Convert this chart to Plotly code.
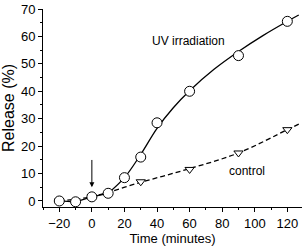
import plotly.graph_objects as go

# measured data
uv_time = [-20, -10, 0, 10, 20, 30, 40, 60, 90, 120]
uv_release = [0.0, -0.3, 1.5, 2.8, 8.5, 16.0, 28.5, 40.0, 53.0, 65.5]
ctrl_time = [-20, 0, 30, 60, 90, 120]
ctrl_release = [0.0, 1.5, 7.0, 11.5, 17.5, 26.0]

# curves as drawn in the figure
uv_early_time = [-20, -10, 0, 10]
uv_early_release = [0.0, -0.3, 1.5, 2.8]
uv_fit_time = [10, 20, 30, 40, 50, 60, 75, 90, 105, 120, 127]
uv_fit_release = [2.8, 8.5, 17.0, 26.5, 34.0, 40.2, 48.0, 54.5, 60.3, 65.5, 67.8]
ctrl_fit_time = [-20, 0, 30, 60, 90, 120, 127]
ctrl_fit_release = [0.0, 1.6, 6.8, 11.8, 17.5, 26.0, 28.0]

x_ticks = [-20, 0, 20, 40, 60, 80, 100, 120]
y_ticks = [0, 10, 20, 30, 40, 50, 60, 70]

FONT = "Liberation Sans, Arial, sans-serif"

fig = go.Figure()
fig.add_trace(go.Scatter(
    x=ctrl_fit_time, y=ctrl_fit_release, mode="lines",
    line=dict(color="black", width=1.3, dash="5px,3px", shape="spline"),
    showlegend=False, hoverinfo="skip"))
fig.add_trace(go.Scatter(
    x=uv_early_time, y=uv_early_release, mode="lines",
    line=dict(color="black", width=1.3),
    showlegend=False, hoverinfo="skip"))
fig.add_trace(go.Scatter(
    x=uv_fit_time, y=uv_fit_release, mode="lines",
    line=dict(color="black", width=1.3, shape="spline"),
    showlegend=False, hoverinfo="skip"))
fig.add_trace(go.Scatter(
    x=ctrl_time, y=ctrl_release, mode="markers",
    marker=dict(symbol="triangle-down", size=8, color="white",
                line=dict(color="black", width=1)),
    showlegend=False))
fig.add_trace(go.Scatter(
    x=uv_time, y=uv_release, mode="markers",
    marker=dict(symbol="circle", size=10, color="white",
                line=dict(color="black", width=1)),
    showlegend=False))

fig.add_annotation(x=59.5, y=58.5, text="UV irradiation", showarrow=False,
                   font=dict(family=FONT, size=12, color="black"))
fig.add_annotation(x=95, y=10.8, text="control", showarrow=False,
                   font=dict(family=FONT, size=12, color="black"))
fig.add_annotation(x=0, y=5, ax=0, ay=15.5, axref="x", ayref="y", xref="x", yref="y",
                   text="", showarrow=True, arrowhead=2, arrowsize=1, arrowwidth=1,
                   arrowcolor="black")

fig.update_layout(
    width=308, height=248,
    margin=dict(l=43, r=6, t=9, b=41),
    paper_bgcolor="white", plot_bgcolor="white",
    font=dict(family=FONT, size=13, color="black"),
    xaxis=dict(range=[-30, 129], tickvals=x_ticks, ticks="outside", ticklen=4,
               tickwidth=1, tickcolor="black", showline=True, linecolor="black",
               linewidth=1, showgrid=False, zeroline=False, automargin=False,
               minor=dict(dtick=10, tick0=0, ticks="outside", ticklen=2, tickcolor="black"),
               title=dict(text="Time (minutes)", font=dict(size=13), standoff=3),
               tickfont=dict(size=13)),
    yaxis=dict(range=[-2.2, 70.0], tickvals=y_ticks, ticks="outside", ticklen=4,
               tickwidth=1, tickcolor="black", showline=True, linecolor="black",
               linewidth=1, showgrid=False, zeroline=False, automargin=False,
               minor=dict(dtick=5, tick0=0, ticks="outside", ticklen=2, tickcolor="black"),
               title=dict(text="Release (%)", font=dict(size=16), standoff=2),
               tickfont=dict(size=13)),
)

fig.write_html("out.html", config={"displayModeBar": False},
               post_script="document.body.style.margin='0';document.body.style.overflow='hidden';")
